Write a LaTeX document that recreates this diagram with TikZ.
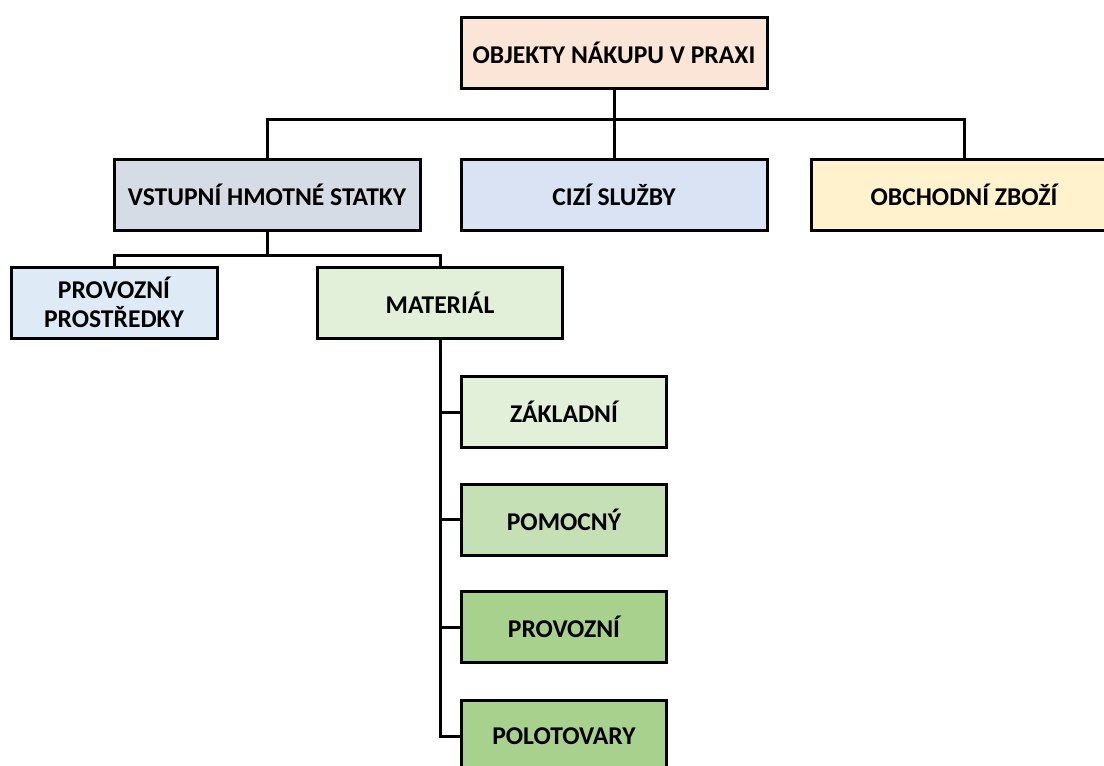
\documentclass[tikz,border=0pt]{standalone}
\usepackage{fontspec}
\setmainfont{Carlito}
\definecolor{cTop}{HTML}{FBE5D6}
\definecolor{cVst}{HTML}{D6DCE5}
\definecolor{cCiz}{HTML}{DAE3F3}
\definecolor{cObc}{HTML}{FFF2CC}
\definecolor{cPP}{HTML}{DEEBF7}
\definecolor{cMat}{HTML}{E2F0D9}
\definecolor{cPom}{HTML}{C5E0B4}
\definecolor{cPrv}{HTML}{A9D18E}
\begin{document}
\begin{tikzpicture}[x=1pt,y=-1pt,
  box/.style={draw=black,line width=3pt,minimum width=306pt,minimum height=71pt,inner sep=0pt,
    font=\fontsize{25.6}{29}\selectfont\bfseries,align=center,text=black},
  con/.style={line width=3pt,draw=black}]
\useasboundingbox (0,0) rectangle (1104,766);
\node[box,fill=cTop] (top) at (614,52.5) {OBJEKTY NÁKUPU V PRAXI};
\node[box,fill=cVst] (vst) at (267,194.5) {VSTUPNÍ HMOTNÉ STATKY};
\node[box,fill=cCiz] (ciz) at (614,194.5) {CIZÍ SLUŽBY};
\node[box,fill=cObc] (obc) at (964,194.5) {OBCHODNÍ ZBOŽÍ};
\node[box,fill=cPP,minimum width=206pt] (pp) at (114,302.5) {PROVOZNÍ\\PROSTŘEDKY};
\node[box,fill=cMat,minimum width=245pt] (mat) at (440,302.5) {MATERIÁL};
\node[box,fill=cMat,minimum width=205pt] (zak) at (564,412) {ZÁKLADNÍ};
\node[box,fill=cPom,minimum width=205pt] (pom) at (564,519.5) {POMOCNÝ};
\node[box,fill=cPrv,minimum width=205pt] (prv) at (564,627) {PROVOZNÍ};
\node[box,fill=cPrv,minimum width=205pt] (pol) at (564,736) {POLOTOVARY};
\coordinate (j1) at (614,119);
\coordinate (j2) at (267,255);
\draw[con] (top.south) -- (j1);
\draw[con] (vst.north) |- (j1) -| (obc.north);
\draw[con] (j1) -- (ciz.north);
\draw[con] (vst.south) -- (j2);
\draw[con] (pp.north) |- (j2) -| (mat.north);
\draw[con] (mat.south) |- (pol.west);
\draw[con] (mat.south |- zak.west) -- (zak.west);
\draw[con] (mat.south |- pom.west) -- (pom.west);
\draw[con] (mat.south |- prv.west) -- (prv.west);
\end{tikzpicture}
\end{document}
